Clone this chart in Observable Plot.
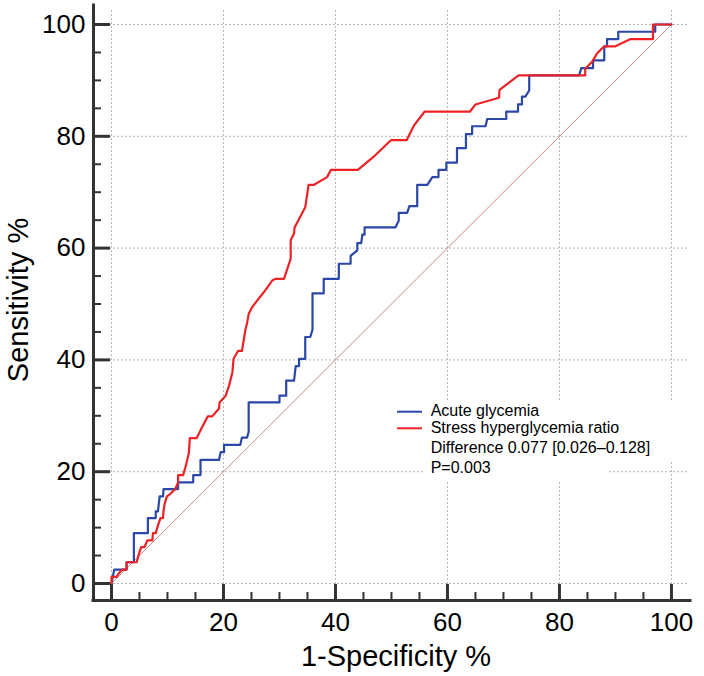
<!DOCTYPE html>
<html>
<head>
<meta charset="utf-8">
<script src="https://cdn.jsdelivr.net/npm/d3@7"></script>
<script src="https://cdn.jsdelivr.net/npm/@observablehq/plot@0.6"></script>
<style>
  body { margin: 0; background: #fff; }
  #wrap { position: relative; width: 704px; height: 676px; font-family: "Liberation Sans", Arial, Helvetica, sans-serif; }
  #wrap > svg { position: absolute; left: 0; top: 0; }
</style>
</head>
<body>
<div id="wrap"></div>
<script>
// ---------- data ----------
const seriesNames = ["Acute glycemia", "Stress hyperglycemia ratio"];
const seriesColors = ["#2b47a8", "#ec2226"];
const chanceColor = "#c47a7a";

// [1-Specificity %, Sensitivity %]
const acuteGlycemia = [
  [0,0],[0.5,2.5],[2.7,2.5],[2.7,3.8],[4.0,3.8],[4.0,9.0],[6.5,9.0],[6.5,11.7],[7.9,11.7],[7.9,12.9],
  [8.3,12.9],[8.6,15.6],[9.2,15.6],[9.3,16.9],[11.9,16.9],[11.9,18.1],[14.6,18.1],[14.6,19.4],[15.9,19.4],
  [15.9,22.1],[19.2,22.1],[19.5,23.5],[20.1,23.5],[20.1,24.8],[23.0,24.8],[23.3,26.1],[24.2,26.1],[24.5,27.1],
  [24.5,32.4],[30.0,32.4],[30.0,33.6],[31.2,33.6],[31.2,36.3],[32.6,36.3],[32.9,38.9],[33.5,38.9],[33.5,40.2],
  [34.6,40.2],[34.6,44.1],[35.5,44.1],[35.9,45.4],[35.9,51.9],[37.9,51.9],[37.9,54.5],[40.6,54.5],[40.6,57.2],
  [42.7,57.2],[42.7,58.6],[43.9,59.6],[43.9,60.9],[44.6,60.9],[44.8,62.4],[45.2,62.4],[45.2,63.7],[50.7,63.7],
  [51.3,64.9],[51.3,66.3],[52.8,66.3],[53.2,67.5],[54.6,67.5],[54.6,71.3],[56.4,71.3],[57.3,72.7],[58.4,72.7],
  [58.4,74.0],[59.8,74.0],[59.8,75.3],[61.7,75.3],[61.7,77.9],[63.3,77.9],[63.3,80.4],[64.4,80.4],[64.4,81.8],
  [66.8,81.8],[67.1,83.1],[70.5,83.1],[70.5,84.4],[72.6,84.4],[72.6,85.7],[73.3,85.7],[73.3,87.1],[73.9,87.1],
  [74.6,88.2],[74.6,90.9],[83.5,90.9],[83.9,92.2],[86.0,92.2],[86.0,93.6],[88.0,93.6],[88.0,96.1],[88.5,96.1],
  [88.5,97.4],[90.5,97.4],[90.5,98.7],[97.1,98.7],[97.1,100],[100,100]
];

const stressRatio = [
  [0,0],[0,1.2],[0.9,1.2],[1.3,1.8],[1.9,2.5],[2.7,2.5],[2.7,3.8],[4.5,3.8],[4.9,5.3],[5.3,6.5],[5.9,6.5],
  [6.4,7.7],[7.3,7.7],[7.4,9.0],[7.9,9.0],[8.3,10.4],[8.75,11.7],[9.2,11.7],[9.3,13.1],[9.5,14.3],[9.9,15.6],
  [10.5,16.0],[11.4,16.9],[11.9,18.1],[11.9,19.4],[12.8,19.4],[13.2,20.8],[13.8,23.2],[14.0,26.0],[15.2,26.0],
  [16.2,28.0],[17.2,29.9],[18.0,29.9],[19.2,31.3],[19.3,32.4],[20.4,33.6],[21.0,35.4],[21.6,37.8],[21.8,40.2],
  [22.6,41.6],[23.3,41.6],[23.9,45.3],[24.2,46.5],[24.5,48.2],[25.1,49.4],[26.0,50.6],[27.2,52.1],[28.7,54.2],
  [29.3,54.5],[30.8,54.5],[31.4,56.3],[32.0,58.1],[32.0,61.4],[32.6,62.6],[32.7,63.7],[34.6,67.3],[35.2,71.3],
  [36.1,71.3],[38.5,72.7],[39.2,74.0],[44.0,74.0],[47.1,76.6],[49.9,79.3],[52.7,79.3],[54.0,81.9],[55.9,84.4],
  [64.0,84.4],[65.0,85.7],[69.2,86.9],[69.3,88.3],[72.7,90.9],[84.6,90.9],[84.6,92.1],[85.8,93.3],[86.7,94.8],
  [88.0,96.1],[90.0,96.1],[92.7,97.4],[96.7,97.4],[96.7,100],[100,100]
];

const chanceLine = [[0,0],[100,100]];
const majorTicks = [0, 20, 40, 60, 80, 100];
const minorTicks = [5,10,15,25,30,35,45,50,55,65,70,75,85,90,95];
const annotationLines = ["Difference 0.077 [0.026\u20130.128]", "P=0.003"];
const xTitle = "1-Specificity %";
const yTitle = "Sensitivity %";

// ---------- chart ----------
const xDomain = [-3.21, 103.4];
const yDomain = [-3.04, 103.4];
const gridEnd = 102.9;
const axisColor = "#333";
const fontFamily = '"Liberation Sans", Arial, Helvetica, sans-serif';

const chart = Plot.plot({
  width: 704,
  height: 676,
  marginLeft: 93,
  marginRight: 14,
  marginTop: 5,
  marginBottom: 76,
  style: { fontFamily, background: "white", color: "#000", overflow: "visible" },
  x: { domain: xDomain },
  y: { domain: yDomain },
  marks: [
    // dotted grid
    Plot.ruleX(majorTicks, { x: d => d, y1: yDomain[0], y2: gridEnd, stroke: "#b5b5b5", strokeWidth: 1, strokeDasharray: "2,2" }),
    Plot.ruleY(majorTicks, { y: d => d, x1: xDomain[0], x2: gridEnd, stroke: "#b5b5b5", strokeWidth: 1, strokeDasharray: "2,2" }),
    // chance diagonal
    Plot.line(chanceLine, { x: d => d[0], y: d => d[1], stroke: chanceColor, strokeWidth: 0.9 }),
    // ROC curves
    Plot.line(acuteGlycemia, { x: d => d[0], y: d => d[1], stroke: seriesColors[0], strokeWidth: 2.2, curve: "linear" }),
    Plot.line(stressRatio, { x: d => d[0], y: d => d[1], stroke: seriesColors[1], strokeWidth: 2.2, curve: "linear" }),
    // axis lines
    Plot.ruleX([xDomain[0]], { x: d => d, y1: yDomain[0], y2: yDomain[1], stroke: axisColor, strokeWidth: 3, strokeLinecap: "square" }),
    Plot.ruleY([yDomain[0]], { y: d => d, x1: xDomain[0], x2: xDomain[1], stroke: axisColor, strokeWidth: 3, strokeLinecap: "square" }),
    // inward ticks
    Plot.axisX(majorTicks, { tickSize: -16, tickFormat: () => "", label: null, stroke: axisColor, strokeWidth: 3 }),
    Plot.axisX(minorTicks, { tickSize: -8, tickFormat: () => "", label: null, stroke: axisColor, strokeWidth: 2 }),
    Plot.axisY(majorTicks, { tickSize: -17, tickFormat: () => "", label: null, stroke: axisColor, strokeWidth: 3 }),
    Plot.axisY(minorTicks, { tickSize: -8, tickFormat: () => "", label: null, stroke: axisColor, strokeWidth: 2 }),
    // tick labels
    Plot.axisX(majorTicks, { tickSize: 0, tickPadding: 12, fontSize: 26, label: null, fill: "#000" }),
    Plot.axisY(majorTicks, { tickSize: 0, tickPadding: 8, fontSize: 26, label: null, fill: "#000" }),
    // axis titles
    Plot.text([xTitle], { text: d => d, frameAnchor: "bottom", lineAnchor: "middle", textAnchor: "middle", dy: 56, dx: 4, fontSize: 29, fill: "#000" }),
    Plot.text([yTitle], { text: d => d, frameAnchor: "left", lineAnchor: "middle", textAnchor: "middle", rotate: -90, dx: -75, dy: -3, fontSize: 29, fill: "#000" })
  ]
});

const wrap = document.getElementById("wrap");
wrap.appendChild(chart);

// ---------- legend overlay ----------
const leg = d3.select(wrap).append("svg")
  .attr("width", 704).attr("height", 676)
  .style("pointer-events", "none")
  .style("font-family", fontFamily);

leg.append("rect").attr("x", 424).attr("y", 400).attr("width", 252).attr("height", 62).attr("fill", "white");
leg.append("rect").attr("x", 424).attr("y", 462).attr("width", 183).attr("height", 19).attr("fill", "white");

const entries = [
  { name: seriesNames[0], color: seriesColors[0], lineY: 411.7, base: 416 },
  { name: seriesNames[1], color: seriesColors[1], lineY: 428.3, base: 432.7 }
];
entries.forEach(e => {
  leg.append("line").attr("x1", 397).attr("x2", 422).attr("y1", e.lineY).attr("y2", e.lineY)
    .attr("stroke", e.color).attr("stroke-width", 2);
  leg.append("text").attr("x", 430.7).attr("y", e.base).attr("font-size", 16).attr("fill", "#000").text(e.name);
});
const annBase = [453.3, 472.7];
annotationLines.forEach((t, i) => {
  leg.append("text").attr("x", 430.7).attr("y", annBase[i]).attr("font-size", 16).attr("fill", "#000").text(t);
});
</script>
</body>
</html>
